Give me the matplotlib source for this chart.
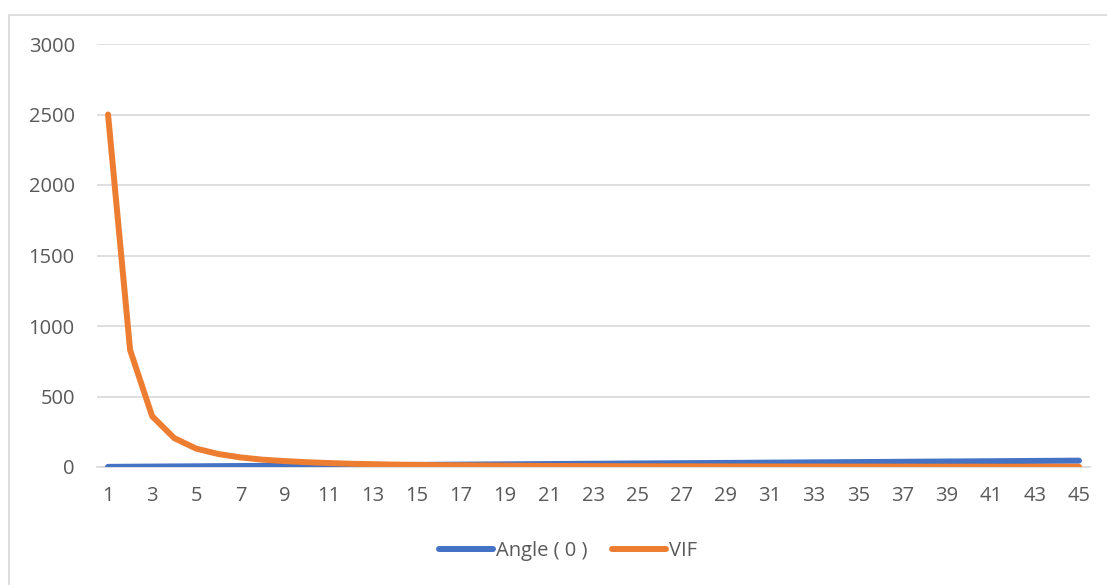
import matplotlib
matplotlib.use("Agg")
import matplotlib.pyplot as plt
from matplotlib.patches import Rectangle

# Category axis (angle in degrees)
categories = [1, 2, 3, 4, 5, 6, 7, 8, 9, 10, 11, 12, 13, 14, 15, 16, 17, 18, 19, 20,
              21, 22, 23, 24, 25, 26, 27, 28, 29, 30, 31, 32, 33, 34, 35, 36, 37, 38,
              39, 40, 41, 42, 43, 44, 45]

# Series: the angle itself
angle = [1, 2, 3, 4, 5, 6, 7, 8, 9, 10, 11, 12, 13, 14, 15, 16, 17, 18, 19, 20,
         21, 22, 23, 24, 25, 26, 27, 28, 29, 30, 31, 32, 33, 34, 35, 36, 37, 38,
         39, 40, 41, 42, 43, 44, 45]

# Series: variance inflation factor
vif = [2500, 830, 360, 205, 130, 92, 68, 52, 42, 34, 28, 23, 20, 17, 15, 13, 12,
       10.5, 9.5, 8.5, 7.7, 7.0, 6.4, 5.9, 5.5, 5.1, 4.8, 4.5, 4.2, 4.0, 3.7, 3.5,
       3.4, 3.2, 3.0, 2.9, 2.8, 2.6, 2.5, 2.4, 2.3, 2.2, 2.2, 2.1, 2.0]

y_ticks = [0, 500, 1000, 1500, 2000, 2500, 3000]
x_tick_labels = [str(c) for c in categories[::2]]

BLUE = "#4472C4"
ORANGE = "#ED7D31"
GRID = "#D9D9D9"
TEXT = "#595959"

plt.rcParams["font.family"] = ["Open Sans", "DejaVu Sans"]

W, H = 1107, 585
fig = plt.figure(figsize=(W / 100, H / 100), dpi=100)
fig.patch.set_facecolor("white")

# Chart-area border (light gray frame)
fig.patches.append(Rectangle((9 / W, -0.2), 1.2, (H - 15) / H + 0.2,
                             transform=fig.transFigure, fill=False,
                             edgecolor=GRID, linewidth=1.2, clip_on=False))

ax = fig.add_axes([97 / W, (H - 467) / H, (1090 - 97) / W, (467 - 44) / H])
ax.set_facecolor("none")

ax.plot(categories, angle, color=BLUE, lw=4.3, solid_capstyle="round",
        solid_joinstyle="round", label="Angle ( 0 )", zorder=3)
ax.plot(categories, vif, color=ORANGE, lw=4.3, solid_capstyle="round",
        solid_joinstyle="round", label="VIF", zorder=3)

ax.set_xlim(0.5, 45.5)
ax.set_ylim(0, 3000)
ax.set_yticks(y_ticks)
ax.set_yticklabels([str(v) for v in y_ticks])
ax.set_xticks(categories[::2])
ax.set_xticklabels(x_tick_labels)

ax.grid(axis="y", color=GRID, lw=1.2, zorder=0)
ax.grid(axis="x", visible=False)
for s in ["top", "right", "left"]:
    ax.spines[s].set_visible(False)
ax.spines["bottom"].set_color(GRID)
ax.spines["bottom"].set_linewidth(1.2)

ax.tick_params(axis="both", length=0, labelsize=14.5, labelcolor=TEXT)
ax.tick_params(axis="y", pad=16)
ax.tick_params(axis="x", pad=14)

leg = fig.legend(loc="center", bbox_to_anchor=(568 / W, (H - 551) / H),
                 ncol=2, frameon=False, fontsize=14.5, handlelength=2.7,
                 handletextpad=0.15, columnspacing=1.2)
for t in leg.get_texts():
    t.set_color(TEXT)

fig.savefig("out.png", dpi=100, facecolor="white")
